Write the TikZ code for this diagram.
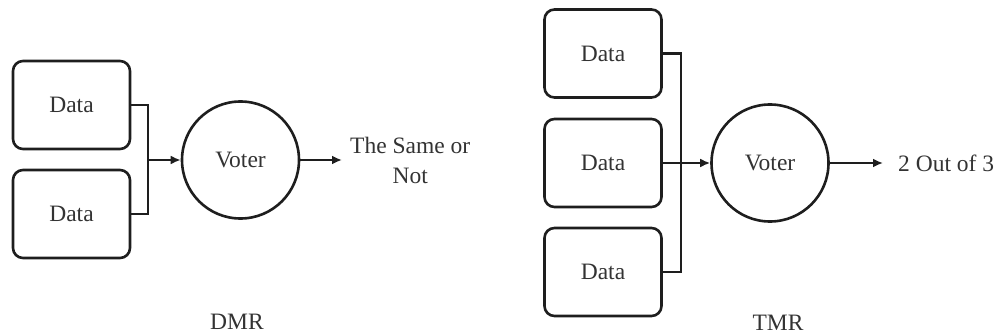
\documentclass[tikz,border=0pt]{standalone}
\usepackage{fontspec}
\setmainfont{Liberation Serif}
\usetikzlibrary{arrows.meta}
\definecolor{ink}{HTML}{1E1E1E}
\definecolor{txt}{HTML}{333333}
\begin{document}
\begin{tikzpicture}[x=1pt,y=-1pt,
  every node/.style={text=txt,font=\fontsize{23.5}{30}\selectfont},
  databox/.style={draw=ink,line width=2.6pt,rounded corners=10pt,minimum width=117pt,minimum height=88pt,inner sep=0pt},
  votercirc/.style={draw=ink,line width=2.6pt,circle,minimum size=117pt,inner sep=0pt},
  wire/.style={draw=ink,line width=2.6pt},
  arrow/.style={wire,-{Latex[length=10pt,width=9pt]}},
  caption/.style={inner sep=0pt}]
\useasboundingbox (0,0) rectangle (1001,334);

% ---- DMR: two data sources into one voter ----
\node[databox] (d1) at (71.5,105) {Data};
\node[databox] (d2) at (71.5,214) {Data};
\node[votercirc] (v1) at (240.5,160) {Voter};
\node[caption,align=center,anchor=west] (o1) at (350,160) {The Same or\\Not};
\node[caption] (dmr) at (237,322) {DMR};
\coordinate (jd) at (148,160);
\draw[wire] (d1.east) -| (jd) |- (d2.east);
\draw[arrow] (jd) -- (v1.west);
\draw[arrow,shorten >=8pt] (v1.east) -- (o1.west);

% ---- TMR: three data sources into one voter ----
\node[databox] (t1) at (603,53.5) {Data};
\node[databox] (t2) at (603,163) {Data};
\node[databox] (t3) at (603,272) {Data};
\node[votercirc] (v2) at (770,163) {Voter};
\node[caption,anchor=west] (o2) at (898,163) {2 Out of 3};
\node[caption] (tmr) at (778,323) {TMR};
\coordinate (jt) at (681,163);
\draw[wire] (t1.east) -| (jt) |- (t3.east);
\draw[arrow] (t2.east) -- (v2.west);
\draw[arrow,shorten >=15pt] (v2.east) -- (o2.west);
\end{tikzpicture}
\end{document}
